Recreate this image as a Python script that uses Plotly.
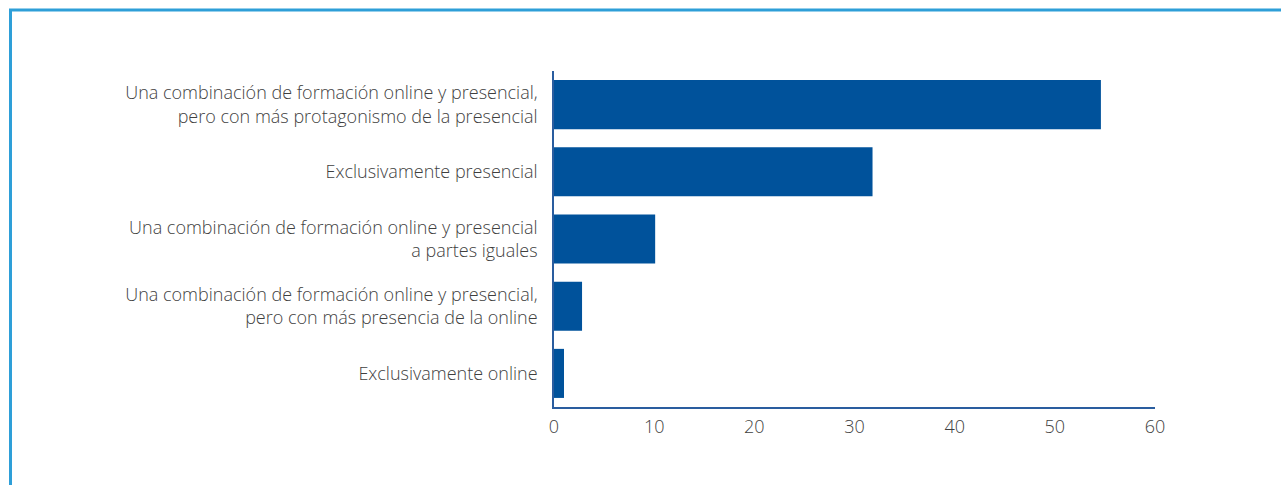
import plotly.graph_objects as go

categories = [
    "Una combinación de formación online y presencial,<br>pero con más protagonismo de la presencial",
    "Exclusivamente presencial",
    "Una combinación de formación online y presencial<br>a partes iguales",
    "Una combinación de formación online y presencial,<br>pero con más presencia de la online",
    "Exclusivamente online",
]
values = [54.6, 31.8, 10.1, 2.8, 1.0]
x_ticks = [0, 10, 20, 30, 40, 50, 60]

W, H = 1281, 485
L, R, T, B = 554, 126, 71, 78
pw, ph = W - L - R, H - T - B

fig = go.Figure(go.Bar(
    y=categories, x=values, orientation="h",
    marker=dict(color="#00529b", line=dict(width=0)),
    width=0.73,
))

def px_to_paper_x(px):
    return (px - L) / pw

def px_to_paper_y(py):
    return 1 - (py - T) / ph

frame_color = "#2e9fd8"
fig.add_shape(type="line", xref="paper", yref="paper",
              x0=px_to_paper_x(9), x1=px_to_paper_x(1290),
              y0=px_to_paper_y(10), y1=px_to_paper_y(10),
              line=dict(color=frame_color, width=3))
fig.add_shape(type="line", xref="paper", yref="paper",
              x0=px_to_paper_x(10.5), x1=px_to_paper_x(10.5),
              y0=px_to_paper_y(9), y1=px_to_paper_y(495),
              line=dict(color=frame_color, width=3))

label_font = dict(family="Open Sans, sans-serif", size=18, color="#3f3f3f", weight=300)

fig.update_layout(
    width=W, height=H,
    margin=dict(l=L, r=R, t=T, b=B),
    paper_bgcolor="white", plot_bgcolor="white",
    font=label_font,
    showlegend=False,
    bargap=0.27,
)
fig.update_xaxes(
    range=[0, 60], tickvals=x_ticks, showgrid=False, zeroline=False,
    showline=True, linecolor="#2a5d9f", linewidth=1.5,
    ticks="", ticklabelstandoff=3, tickfont=dict(label_font, size=18),
)
fig.update_yaxes(
    autorange="reversed", showgrid=False, zeroline=False,
    showline=True, linecolor="#2a5d9f", linewidth=1.5,
    ticks="", ticklabelstandoff=11, tickfont=label_font,
)

fig.write_html("out.html")
